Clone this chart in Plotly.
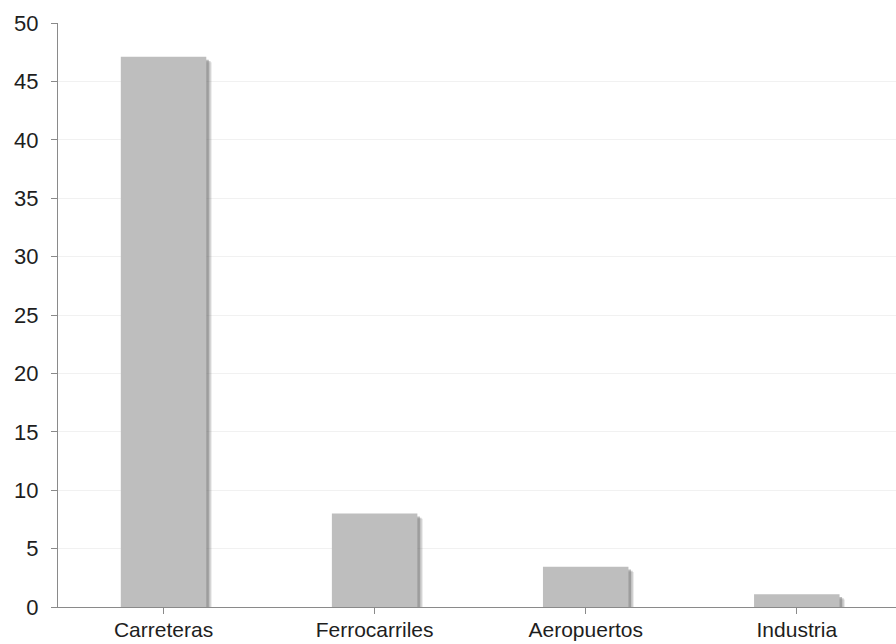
import plotly.graph_objects as go

# Investment share by sector
categories = ["Carreteras", "Ferrocarriles", "Aeropuertos", "Industria"]
values = [47.1, 8.0, 3.45, 1.1]

y_ticks = [0, 5, 10, 15, 20, 25, 30, 35, 40, 45, 50]

bar_width = 0.405
x_pos = list(range(len(categories)))

fig = go.Figure()

# soft drop shadow to the right of each bar (layered for a blurred edge)
for shift, drop, alpha in [(0.026, 0.45, 0.15), (0.020, 0.35, 0.30), (0.012, 0.25, 0.45)]:
    fig.add_trace(go.Bar(
        x=x_pos,
        y=[max(v - drop, 0) for v in values],
        width=bar_width,
        offset=-bar_width / 2 + shift,
        marker=dict(color=f"rgba(110,110,110,{alpha})", line=dict(width=0)),
        hoverinfo="skip",
        showlegend=False,
    ))

fig.add_trace(go.Bar(
    x=x_pos,
    y=values,
    width=bar_width,
    offset=-bar_width / 2,
    marker=dict(color="#bebebe", line=dict(width=0)),
    showlegend=False,
))

fig.update_layout(
    width=896,
    height=644,
    margin=dict(l=58, r=0, t=23, b=37),
    paper_bgcolor="white",
    plot_bgcolor="white",
    barmode="overlay",
    font=dict(family="Liberation Sans, Arial, sans-serif", size=22, color="#1e1e1e"),
    xaxis=dict(
        range=[-0.5, 3.47],
        automargin=False,
        tickmode="array",
        tickvals=x_pos,
        ticktext=categories,
        showgrid=False,
        zeroline=False,
        showline=True,
        linecolor="#8a8a8a",
        linewidth=1,
        ticks="outside",
        tickson="boundaries",
        ticklen=6,
        tickcolor="#8a8a8a",
        tickfont=dict(size=21, color="#1e1e1e"),
        ticklabelstandoff=-2,
    ),
    yaxis=dict(
        range=[0, 50],
        automargin=False,
        tickmode="array",
        tickvals=y_ticks,
        showgrid=True,
        gridcolor="#f1f1f1",
        gridwidth=1,
        zeroline=False,
        showline=True,
        linecolor="#8a8a8a",
        linewidth=1,
        ticks="outside",
        ticklen=6,
        tickcolor="#8a8a8a",
        tickfont=dict(size=22, color="#1e1e1e"),
        ticklabelstandoff=8,
    ),
)

fig.write_html("out.html")
